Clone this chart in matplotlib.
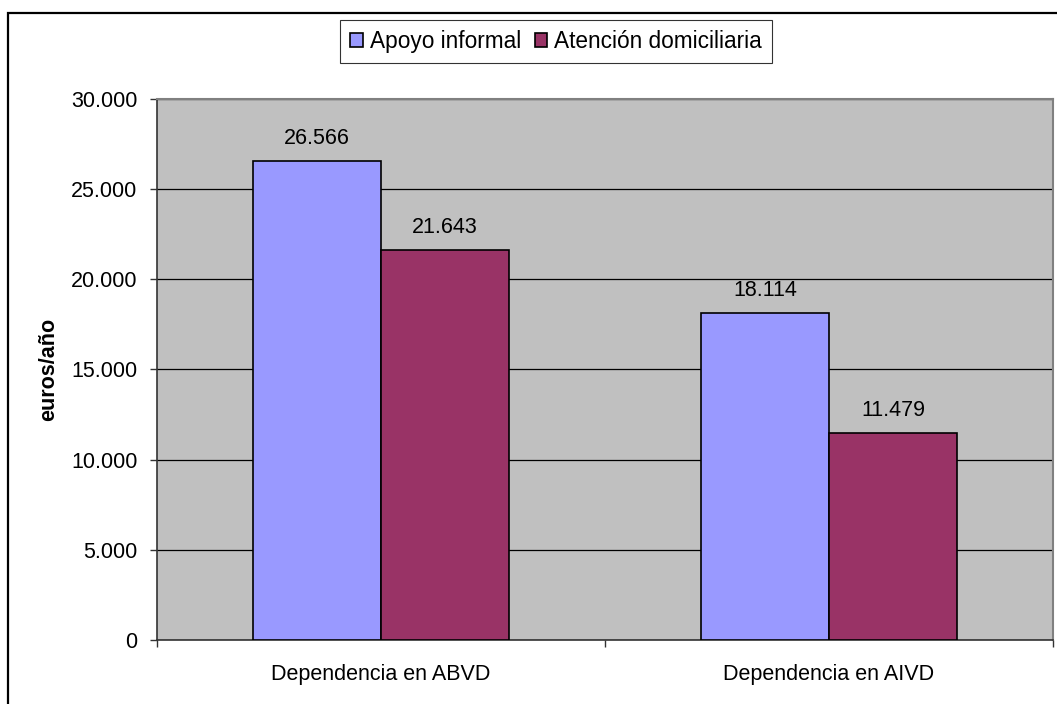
import matplotlib
matplotlib.use("Agg")
import matplotlib.pyplot as plt
from matplotlib.patches import Rectangle
import numpy as np

categories = ["Dependencia en ABVD", "Dependencia en AIVD"]
series_names = ["Apoyo informal", "Atención domiciliaria"]
apoyo_informal = [26566, 18114]
atencion_domiciliaria = [21643, 11479]
y_ticks = [0, 5000, 10000, 15000, 20000, 25000, 30000]
y_tick_labels = ["0", "5.000", "10.000", "15.000", "20.000", "25.000", "30.000"]

plt.rcParams["font.family"] = ["Liberation Sans", "DejaVu Sans"]
FS = 15.5
LEG_FS = 16.3

fig = plt.figure(figsize=(10.57, 7.04), dpi=100)
fig.patch.set_facecolor("white")

# outer chart frame
fig.patches.append(Rectangle((8 / 1057, -0.05), 1.2, 1 - 13 / 704 + 0.05,
                             transform=fig.transFigure, fill=False,
                             edgecolor="black", linewidth=1.6, zorder=0))

ax = fig.add_axes([157 / 1057, 64 / 704, 896 / 1057, 541 / 704])
ax.set_facecolor("#C0C0C0")

x = np.arange(len(categories))
width = 1 / 3.5
colors = ["#9999FF", "#993366"]
for i, (vals, name, c) in enumerate(zip([apoyo_informal, atencion_domiciliaria],
                                        series_names, colors)):
    pos = x + (i - 0.5) * width
    ax.bar(pos, vals, width=width, color=c, edgecolor="black", linewidth=1.2,
           label=name, zorder=3)
    for p, v in zip(pos, vals):
        lbl = f"{v:,}".replace(",", ".")
        ax.annotate(lbl, (p, v), xytext=(0, 12.2), textcoords="offset points",
                    ha="center", va="baseline", fontsize=FS, zorder=4)

ax.set_xlim(-0.5, len(categories) - 0.5)
ax.set_ylim(0, 30000)

ax.set_yticks(y_ticks)
ax.set_yticklabels(y_tick_labels, fontsize=FS)
ax.tick_params(axis="y", direction="out", length=5, width=1, color="#333333", pad=9)

# category boundaries carry the ticks, names sit at the centres
ax.set_xticks(np.arange(len(categories) + 1) - 0.5)
ax.set_xticklabels([])
ax.tick_params(axis="x", which="major", direction="out", length=5, width=1, color="#333333")
ax.set_xticks(x, minor=True)
ax.set_xticklabels(categories, minor=True, fontsize=FS)
ax.tick_params(axis="x", which="minor", length=0, pad=17)

ax.yaxis.grid(True, color="black", linewidth=0.9, zorder=1)
ax.set_axisbelow(True)

for side in ["top", "right"]:
    ax.spines[side].set_color("#808080")
    ax.spines[side].set_linewidth(1.5)
for side in ["left", "bottom"]:
    ax.spines[side].set_color("#333333")
    ax.spines[side].set_linewidth(1.2)

ax.set_ylabel("euros/año", fontsize=FS, fontweight="bold", labelpad=12)
ax.yaxis.set_label_coords(-98 / 896, 0.5)

leg = fig.legend(loc="upper center", bbox_to_anchor=(556 / 1057, 1 - 20 / 704),
                 ncol=2, fontsize=LEG_FS, frameon=True, fancybox=False,
                 handlelength=0.55, handleheight=0.55, handletextpad=0.3,
                 columnspacing=0.6, borderpad=0.45, borderaxespad=0)
leg.get_frame().set_edgecolor("black")
leg.get_frame().set_linewidth(0.8)

fig.savefig("out.png", dpi=100, facecolor="white")
